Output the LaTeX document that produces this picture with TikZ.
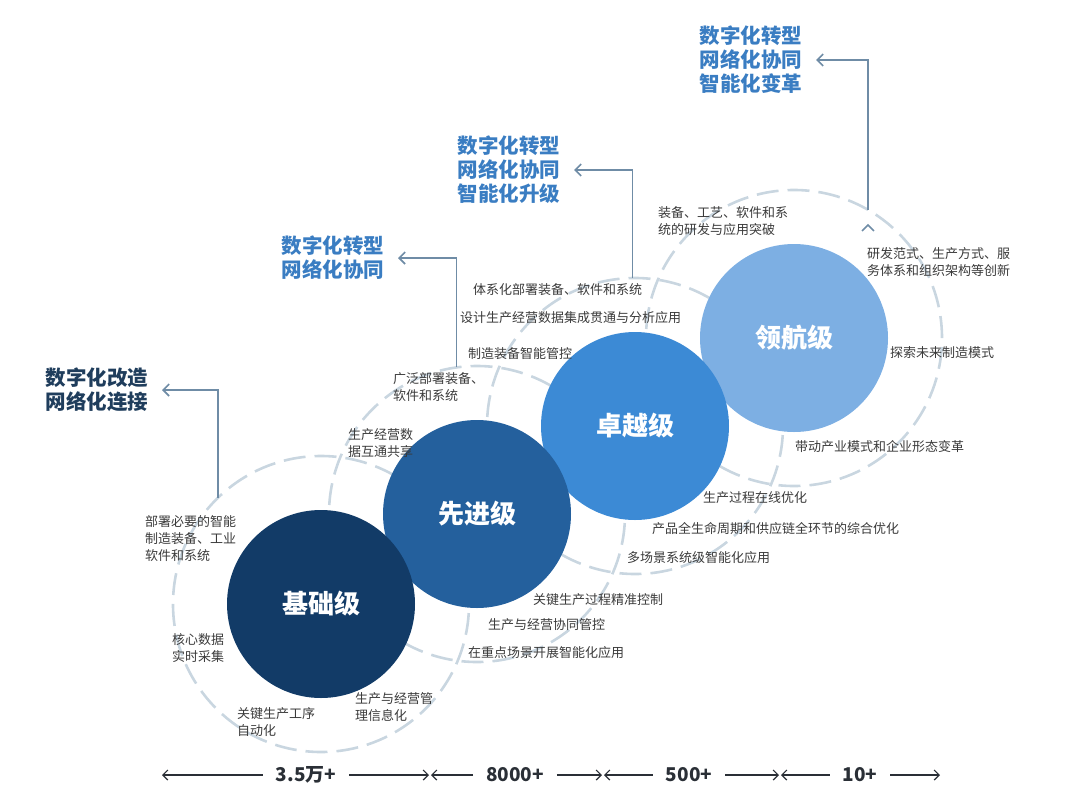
\documentclass[tikz,border=0pt]{standalone}
\usepackage{fontspec}
\setmainfont{Noto Sans CJK SC}
\usetikzlibrary{arrows.meta,positioning}
\definecolor{lvone}{HTML}{123B67}
\definecolor{lvtwo}{HTML}{24609D}
\definecolor{lvthree}{HTML}{3C8AD5}
\definecolor{lvfour}{HTML}{7DAFE3}
\definecolor{goaldark}{HTML}{1F3D5C}
\definecolor{goalblue}{HTML}{3A7DC2}
\definecolor{ringgray}{HTML}{C9D6E0}
\definecolor{notegray}{HTML}{3A3A3A}
\definecolor{linkgray}{HTML}{6F8CA6}
\definecolor{spanblack}{HTML}{2A2F36}

\begin{document}
\begin{tikzpicture}[x=1pt,y=-1pt,
    every node/.style={inner sep=0pt,outer sep=0pt},
    ring/.style={circle,draw=ringgray,line width=2.6pt,dash pattern=on 22pt off 9pt,minimum size=296pt},
    level/.style={circle,minimum size=188pt,text=white,font=\bfseries\fontsize{26}{30}\selectfont},
    note/.style={anchor=west,align=left,text=notegray,font=\fontsize{13}{17}\selectfont},
    goal/.style={anchor=east,align=left,font=\bfseries\fontsize{20.5}{24}\selectfont},
    goaledge/.style={draw=linkgray,line width=1.6pt,-{Straight Barb[length=6pt,width=12pt]},shorten >=14pt,to path={|- (\tikztotarget)}},
    span/.style={font=\bfseries\fontsize{19}{22}\selectfont,text=spanblack,inner xsep=13pt},
    spanedge/.style={draw=spanblack,line width=1.2pt,-{Straight Barb[length=5pt,width=10pt]},shorten >=1pt}
]
\useasboundingbox (0,0) rectangle (1080,801);

\node[ring] (ring1) at (321,604) {};
\node[ring] (ring2) at (477,514) {};
\node[ring] (ring3) at (635,426) {};
\node[ring] (ring4) at (794,338) {};

\node[level,fill=lvfour]  (lead)  at (794,338) {领航级};
\node[level,fill=lvthree] (excel) at (635,426) {卓越级};
\node[level,fill=lvtwo]   (adv)   at (477,514) {先进级};
\node[level,fill=lvone]   (base)  at (321,604) {基础级};

\node[note] (n1a) at (145,539) {部署必要的智能\\制造装备、工业\\软件和系统};
\node[note] (n1b) at (172,648) {核心数据\\实时采集};
\node[note] (n1c) at (237,722) {关键生产工序\\自动化};
\node[note] (n1d) at (355,707) {生产与经营管\\理信息化};

\node[note] (n2a) at (348,443) {生产经营数\\据互通共享};
\node[note] (n2b) at (393,387) {广泛部署装备、\\软件和系统};
\node[note] (n2c) at (533,600) {关键生产过程精准控制};
\node[note] (n2d) at (488,625) {生产与经营协同管控};
\node[note] (n2e) at (468,653) {在重点场景开展智能化应用};

\node[note] (n3a) at (473,290) {体系化部署装备、软件和系统};
\node[note] (n3b) at (460,318) {设计生产经营数据集成贯通与分析应用};
\node[note] (n3c) at (468,354) {制造装备智能管控};
\node[note] (n3d) at (703,498) {生产过程在线优化};
\node[note] (n3e) at (652,529) {产品全生命周期和供应链全环节的综合优化};
\node[note] (n3f) at (627,558) {多场景系统级智能化应用};

\node[note] (n4a) at (658,221) {装备、工艺、软件和系\\统的研发与应用突破};
\node[note] (n4b) at (867,262) {研发范式、生产方式、服\\务体系和组织架构等创新};
\node[note] (n4c) at (890,353) {探索未来制造模式};
\node[note] (n4d) at (795,447) {带动产业模式和企业形态变革};

\node[goal,text=goaldark] (goal1) at (148,390) {数字化改造\\网络化连接};
\node[goal,text=goalblue] (goal2) at (384,258) {数字化转型\\网络化协同};
\node[goal,text=goalblue] (goal3) at (560,170) {数字化转型\\网络化协同\\智能化升级};
\node[goal,text=goalblue] (goal4) at (802,60) {数字化转型\\网络化协同\\智能化变革};

\path[goaledge]
    (ring1.134.7) edge (goal1.east)
    (ring2.98.2) edge (goal2.east)
    (ring3.91.9) edge (goal3.east)
    (ring4.60.4) edge (goal4.east);

\coordinate (t0) at (161,775);
\coordinate (t1) at (430,775);
\coordinate (t2) at (603,775);
\coordinate (t3) at (780,775);
\coordinate (t4) at (941,775);
\node[span] (s1) at (306,775) {3.5万+};
\node[span] (s2) at (515,775) {8000+};
\node[span] (s3) at (689,775) {500+};
\node[span] (s4) at (860,775) {10+};

\path[spanedge]
    (s1) edge (t0) (s1) edge (t1)
    (s2) edge (t1) (s2) edge (t2)
    (s3) edge (t2) (s3) edge (t3)
    (s4) edge (t3) (s4) edge (t4);
\end{tikzpicture}
\end{document}
